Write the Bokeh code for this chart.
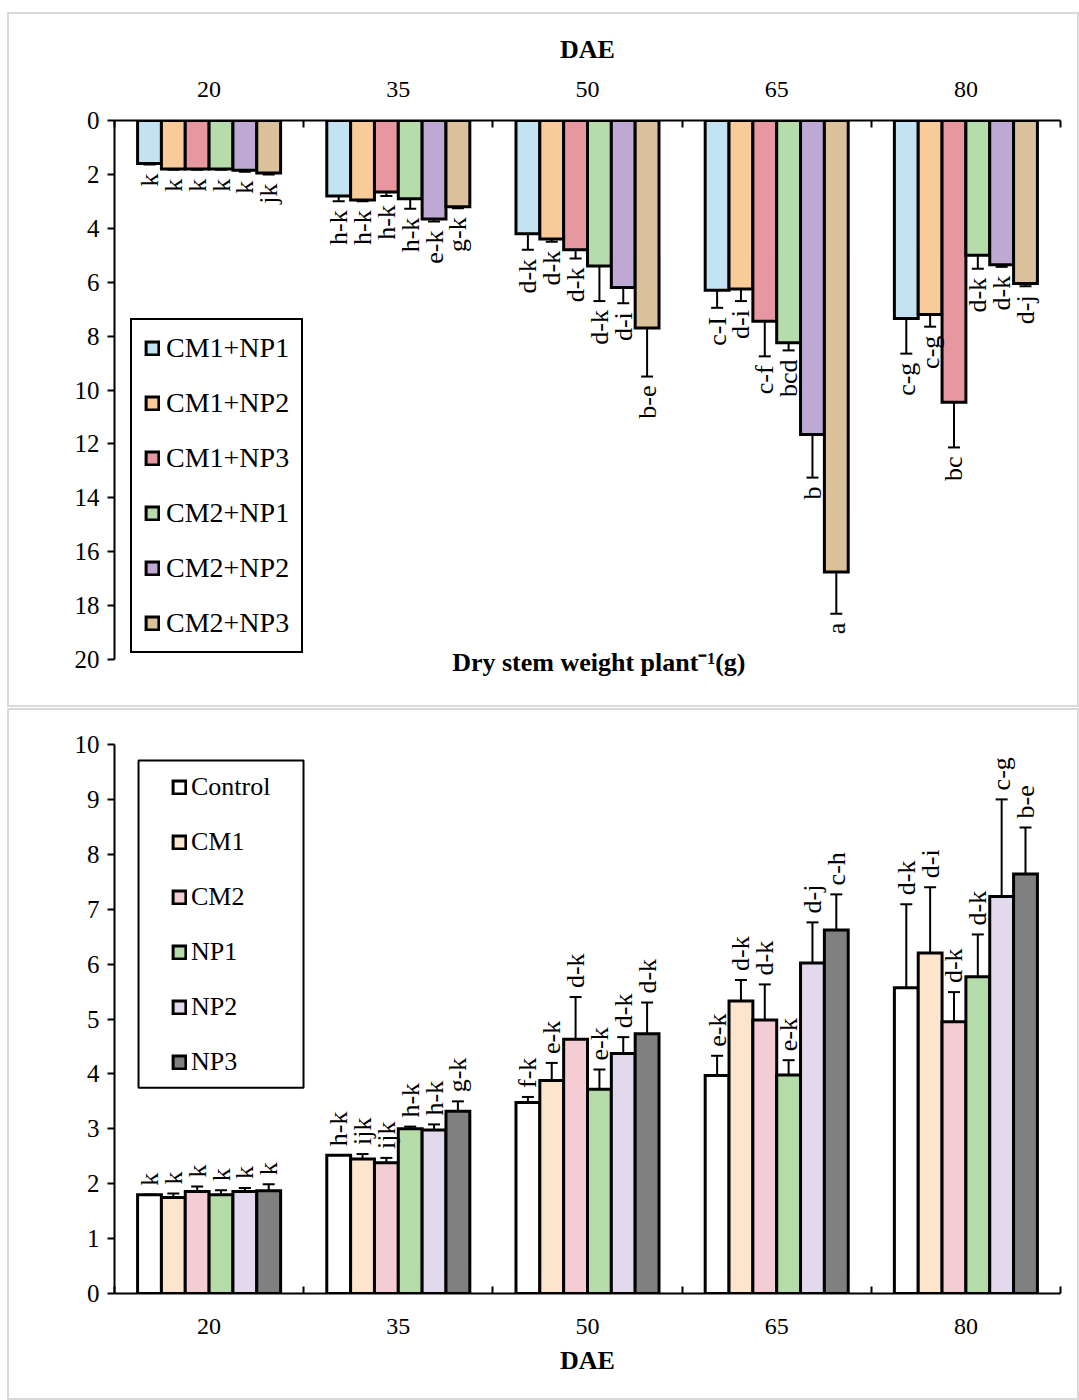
import math

from bokeh.core.properties import value
from bokeh.embed import file_html
from bokeh.layouts import column
from bokeh.models import (BoxAnnotation, ColumnDataSource, FixedTicker,
                          LabelSet, Legend, LegendItem, Range1d, TeeHead, Whisker)
from bokeh.plotting import figure
from bokeh.resources import INLINE

SERIF = "Liberation Serif"

dae_labels = ["20", "35", "50", "65", "80"]

# ---- upper panel: dry stem weight per plant, combined treatments ----
combo_names = ["CM1+NP1", "CM1+NP2", "CM1+NP3", "CM2+NP1", "CM2+NP2", "CM2+NP3"]
combo_colors = ["#C3E2F2", "#F9CB98", "#E6979F", "#B7DCAB", "#BDA9D4", "#DAC09B"]

cm1_np1 = [1.6, 2.8, 4.2, 6.3, 7.35]
cm1_np2 = [1.8, 2.95, 4.4, 6.25, 7.2]
cm1_np3 = [1.8, 2.65, 4.8, 7.45, 10.45]
cm2_np1 = [1.8, 2.9, 5.4, 8.25, 5.0]
cm2_np2 = [1.85, 3.65, 6.2, 11.65, 5.35]
cm2_np3 = [1.95, 3.2, 7.7, 16.75, 6.05]

cm1_np1_err = [0.03, 0.2, 0.6, 0.65, 1.3]
cm1_np2_err = [0.03, 0.05, 0.1, 0.45, 0.45]
cm1_np3_err = [0.03, 0.15, 0.32, 1.3, 1.68]
cm2_np1_err = [0.03, 0.37, 1.3, 0.28, 0.5]
cm2_np2_err = [0.05, 0.1, 0.58, 1.6, 0.08]
cm2_np3_err = [0.05, 0.06, 1.8, 1.55, 0.1]

cm1_np1_sig = ["k", "h-k", "d-k", "c-I", "c-g"]
cm1_np2_sig = ["k", "h-k", "d-k", "d-i", "c-g"]
cm1_np3_sig = ["k", "h-k", "d-k", "c-f", "bc"]
cm2_np1_sig = ["k", "h-k", "d-k", "bcd", "d-k"]
cm2_np2_sig = ["k", "e-k", "d-i", "b", "d-k"]
cm2_np3_sig = ["jk", "g-k", "b-e", "a", "d-j"]

# ---- lower panel: single treatments ----
single_names = ["Control", "CM1", "CM2", "NP1", "NP2", "NP3"]
single_colors = ["#FFFFFF", "#FDE5CD", "#F4CDD4", "#B5DBA9", "#E2D9EC", "#808080"]

control = [1.8, 2.52, 3.48, 3.97, 5.57]
cm1 = [1.75, 2.45, 3.88, 5.33, 6.2]
cm2 = [1.86, 2.38, 4.63, 4.98, 4.95]
np1 = [1.8, 3.0, 3.72, 3.98, 5.77]
np2 = [1.86, 2.98, 4.37, 6.02, 7.23]
np3 = [1.87, 3.32, 4.73, 6.62, 7.64]

control_err = [0.0, 0.0, 0.1, 0.36, 1.52]
cm1_err = [0.07, 0.09, 0.32, 0.38, 1.2]
cm2_err = [0.09, 0.09, 0.77, 0.65, 0.54]
np1_err = [0.08, 0.04, 0.36, 0.27, 0.77]
np2_err = [0.06, 0.1, 0.3, 0.74, 1.77]
np3_err = [0.12, 0.18, 0.57, 0.65, 0.85]

control_sig = ["k", "h-k", "f-k", "e-k", "d-k"]
cm1_sig = ["k", "ijk", "e-k", "d-k", "d-i"]
cm2_sig = ["k", "ijk", "d-k", "d-k", "d-k"]
np1_sig = ["k", "h-k", "e-k", "e-k", "d-k"]
np2_sig = ["k", "h-k", "d-k", "d-j", "c-g"]
np3_sig = ["k", "g-k", "d-k", "c-h", "b-e"]

BAR_W = 0.126
CENTERS = [1, 2, 3, 4, 5]
BOUNDS = [0.5, 1.5, 2.5, 3.5, 4.5, 5.5]


def style_axes(p, x_axis, y_ticks, y_bounds):
    p.xgrid.visible = False
    p.ygrid.visible = False
    p.outline_line_color = None
    p.background_fill_color = "white"
    p.border_fill_color = "white"

    x_axis.ticker = FixedTicker(ticks=CENTERS, minor_ticks=BOUNDS)
    x_axis.major_label_overrides = {c: lab for c, lab in zip(CENTERS, dae_labels)}
    x_axis.major_tick_in = 0
    x_axis.major_tick_out = 0
    x_axis.minor_tick_in = 7
    x_axis.minor_tick_out = 0
    x_axis.minor_tick_line_color = "black"
    x_axis.minor_tick_line_width = 2
    x_axis.axis_line_color = "black"
    x_axis.axis_line_width = 2
    x_axis.major_label_text_font = SERIF
    x_axis.major_label_text_font_size = "24px"
    x_axis.major_label_text_color = "black"
    x_axis.axis_label = "DAE"
    x_axis.axis_label_text_font = SERIF
    x_axis.axis_label_text_font_size = "26px"
    x_axis.axis_label_text_font_style = "bold"
    x_axis.axis_label_text_color = "black"

    y_axis = p.yaxis[0]
    y_axis.ticker = FixedTicker(ticks=y_ticks)
    y_axis.bounds = y_bounds
    y_axis.major_tick_in = 0
    y_axis.major_tick_out = 7
    y_axis.major_tick_line_width = 2
    y_axis.major_tick_line_color = "black"
    y_axis.minor_tick_line_color = None
    y_axis.axis_line_color = "black"
    y_axis.axis_line_width = 2
    y_axis.major_label_text_font = SERIF
    y_axis.major_label_text_font_size = "25px"
    y_axis.major_label_text_color = "black"
    y_axis.major_label_standoff = 8


def draw_bars(p, names, colors, means, errs, sigs, downward):
    items = []
    for j, (name, color, m, e, s) in enumerate(zip(names, colors, means, errs, sigs)):
        xs = [c + (j - 2.5) * BAR_W for c in CENTERS]
        src = ColumnDataSource(dict(
            x=xs, y=m,
            lo=[a - b for a, b in zip(m, e)],
            hi=[a + b for a, b in zip(m, e)],
            sig=s,
        ))
        r = p.vbar(x="x", top="y", bottom=0, width=BAR_W, source=src,
                   fill_color=color, line_color="black", line_width=3,
                   line_join="miter")
        p.add_layout(Whisker(
            source=src, base="x", upper="hi", lower="lo", dimension="height",
            line_color="black", line_width=2,
            upper_head=TeeHead(size=12, line_width=2, line_color="black"),
            lower_head=TeeHead(size=12, line_width=2, line_color="black"),
        ))
        p.add_layout(LabelSet(
            source=src, x="x", y="hi", text="sig",
            angle=math.pi / 2, text_align="right" if downward else "left",
            text_baseline="middle", y_offset=-9 if downward else 9,
            text_font=value(SERIF), text_font_size="26px", text_color="black",
        ))
        items.append(LegendItem(label=name, renderers=[r]))
    return items


# ---- upper figure (values grow downward) ----
top = figure(width=1072, height=695, x_range=Range1d(0.5, 5.5), y_range=Range1d(21, 0),
             x_axis_location="above", output_backend="svg", toolbar_location=None,
             min_border_left=105, min_border_right=21, min_border_top=106,
             min_border_bottom=23,
             styles={"border": "2px solid #d9d9d9"})
style_axes(top, top.xaxis[0], list(range(0, 21, 2)), (0, 20))
top.xaxis[0].major_label_standoff = 24
top.xaxis[0].axis_label_standoff = 15

top_items = draw_bars(top, combo_names, combo_colors,
                      [cm1_np1, cm1_np2, cm1_np3, cm2_np1, cm2_np2, cm2_np3],
                      [cm1_np1_err, cm1_np2_err, cm1_np3_err, cm2_np1_err, cm2_np2_err, cm2_np3_err],
                      [cm1_np1_sig, cm1_np2_sig, cm1_np3_sig, cm2_np1_sig, cm2_np2_sig, cm2_np3_sig],
                      downward=True)

top_legend = Legend(items=top_items, location=(16, 33), orientation="vertical",
                    border_line_color="black", border_line_width=2, border_line_alpha=1,
                    background_fill_color="white", background_fill_alpha=1,
                    padding=12, spacing=23, margin=0, label_height=30,
                    glyph_height=16, glyph_width=16, label_standoff=6,
                    label_text_font=SERIF, label_text_font_size="28px",
                    label_text_color="black")
top.add_layout(top_legend)

# quantity title sits under the value axis, level with its last tick
top.text(x=[3.06], y=[20.1], text=["Dry stem weight plant\u207b\u00b9(g)"],
         text_align="center", text_baseline="middle",
         text_font=value(SERIF), text_font_size="26px", text_font_style="bold",
         text_color="black")

# ---- lower figure ----
bottom = figure(width=1072, height=692, x_range=Range1d(0.5, 5.5), y_range=Range1d(0, 10),
                output_backend="svg", toolbar_location=None,
                min_border_left=105, min_border_right=21, min_border_top=34,
                min_border_bottom=109,
                styles={"border": "2px solid #d9d9d9"})
style_axes(bottom, bottom.xaxis[0], list(range(0, 11)), (0, 10))
bottom.xaxis[0].major_label_standoff = 25
bottom.xaxis[0].axis_label_standoff = 9

bottom_items = draw_bars(bottom, single_names, single_colors,
                         [control, cm1, cm2, np1, np2, np3],
                         [control_err, cm1_err, cm2_err, np1_err, np2_err, np3_err],
                         [control_sig, cm1_sig, cm2_sig, np1_sig, np2_sig, np3_sig],
                         downward=False)

bottom.add_layout(BoxAnnotation(left=0.627, right=1.499, bottom=3.75, top=9.71,
                                fill_alpha=0, line_color="black", line_alpha=1,
                                line_width=2))
bottom_legend = Legend(items=bottom_items, location=(57, 216), orientation="vertical",
                       border_line_color=None, background_fill_alpha=0,
                       padding=12, spacing=25, margin=0, label_height=30,
                       glyph_height=16, glyph_width=16, label_standoff=4,
                       label_text_font=SERIF, label_text_font_size="26px",
                       label_text_color="black")
bottom.add_layout(bottom_legend)

top.margin = (12, 0, 0, 7)
bottom.margin = (1, 0, 0, 7)
layout = column(top, bottom, spacing=0)

with open("out.html", "w") as f:
    f.write(file_html(layout, INLINE))
